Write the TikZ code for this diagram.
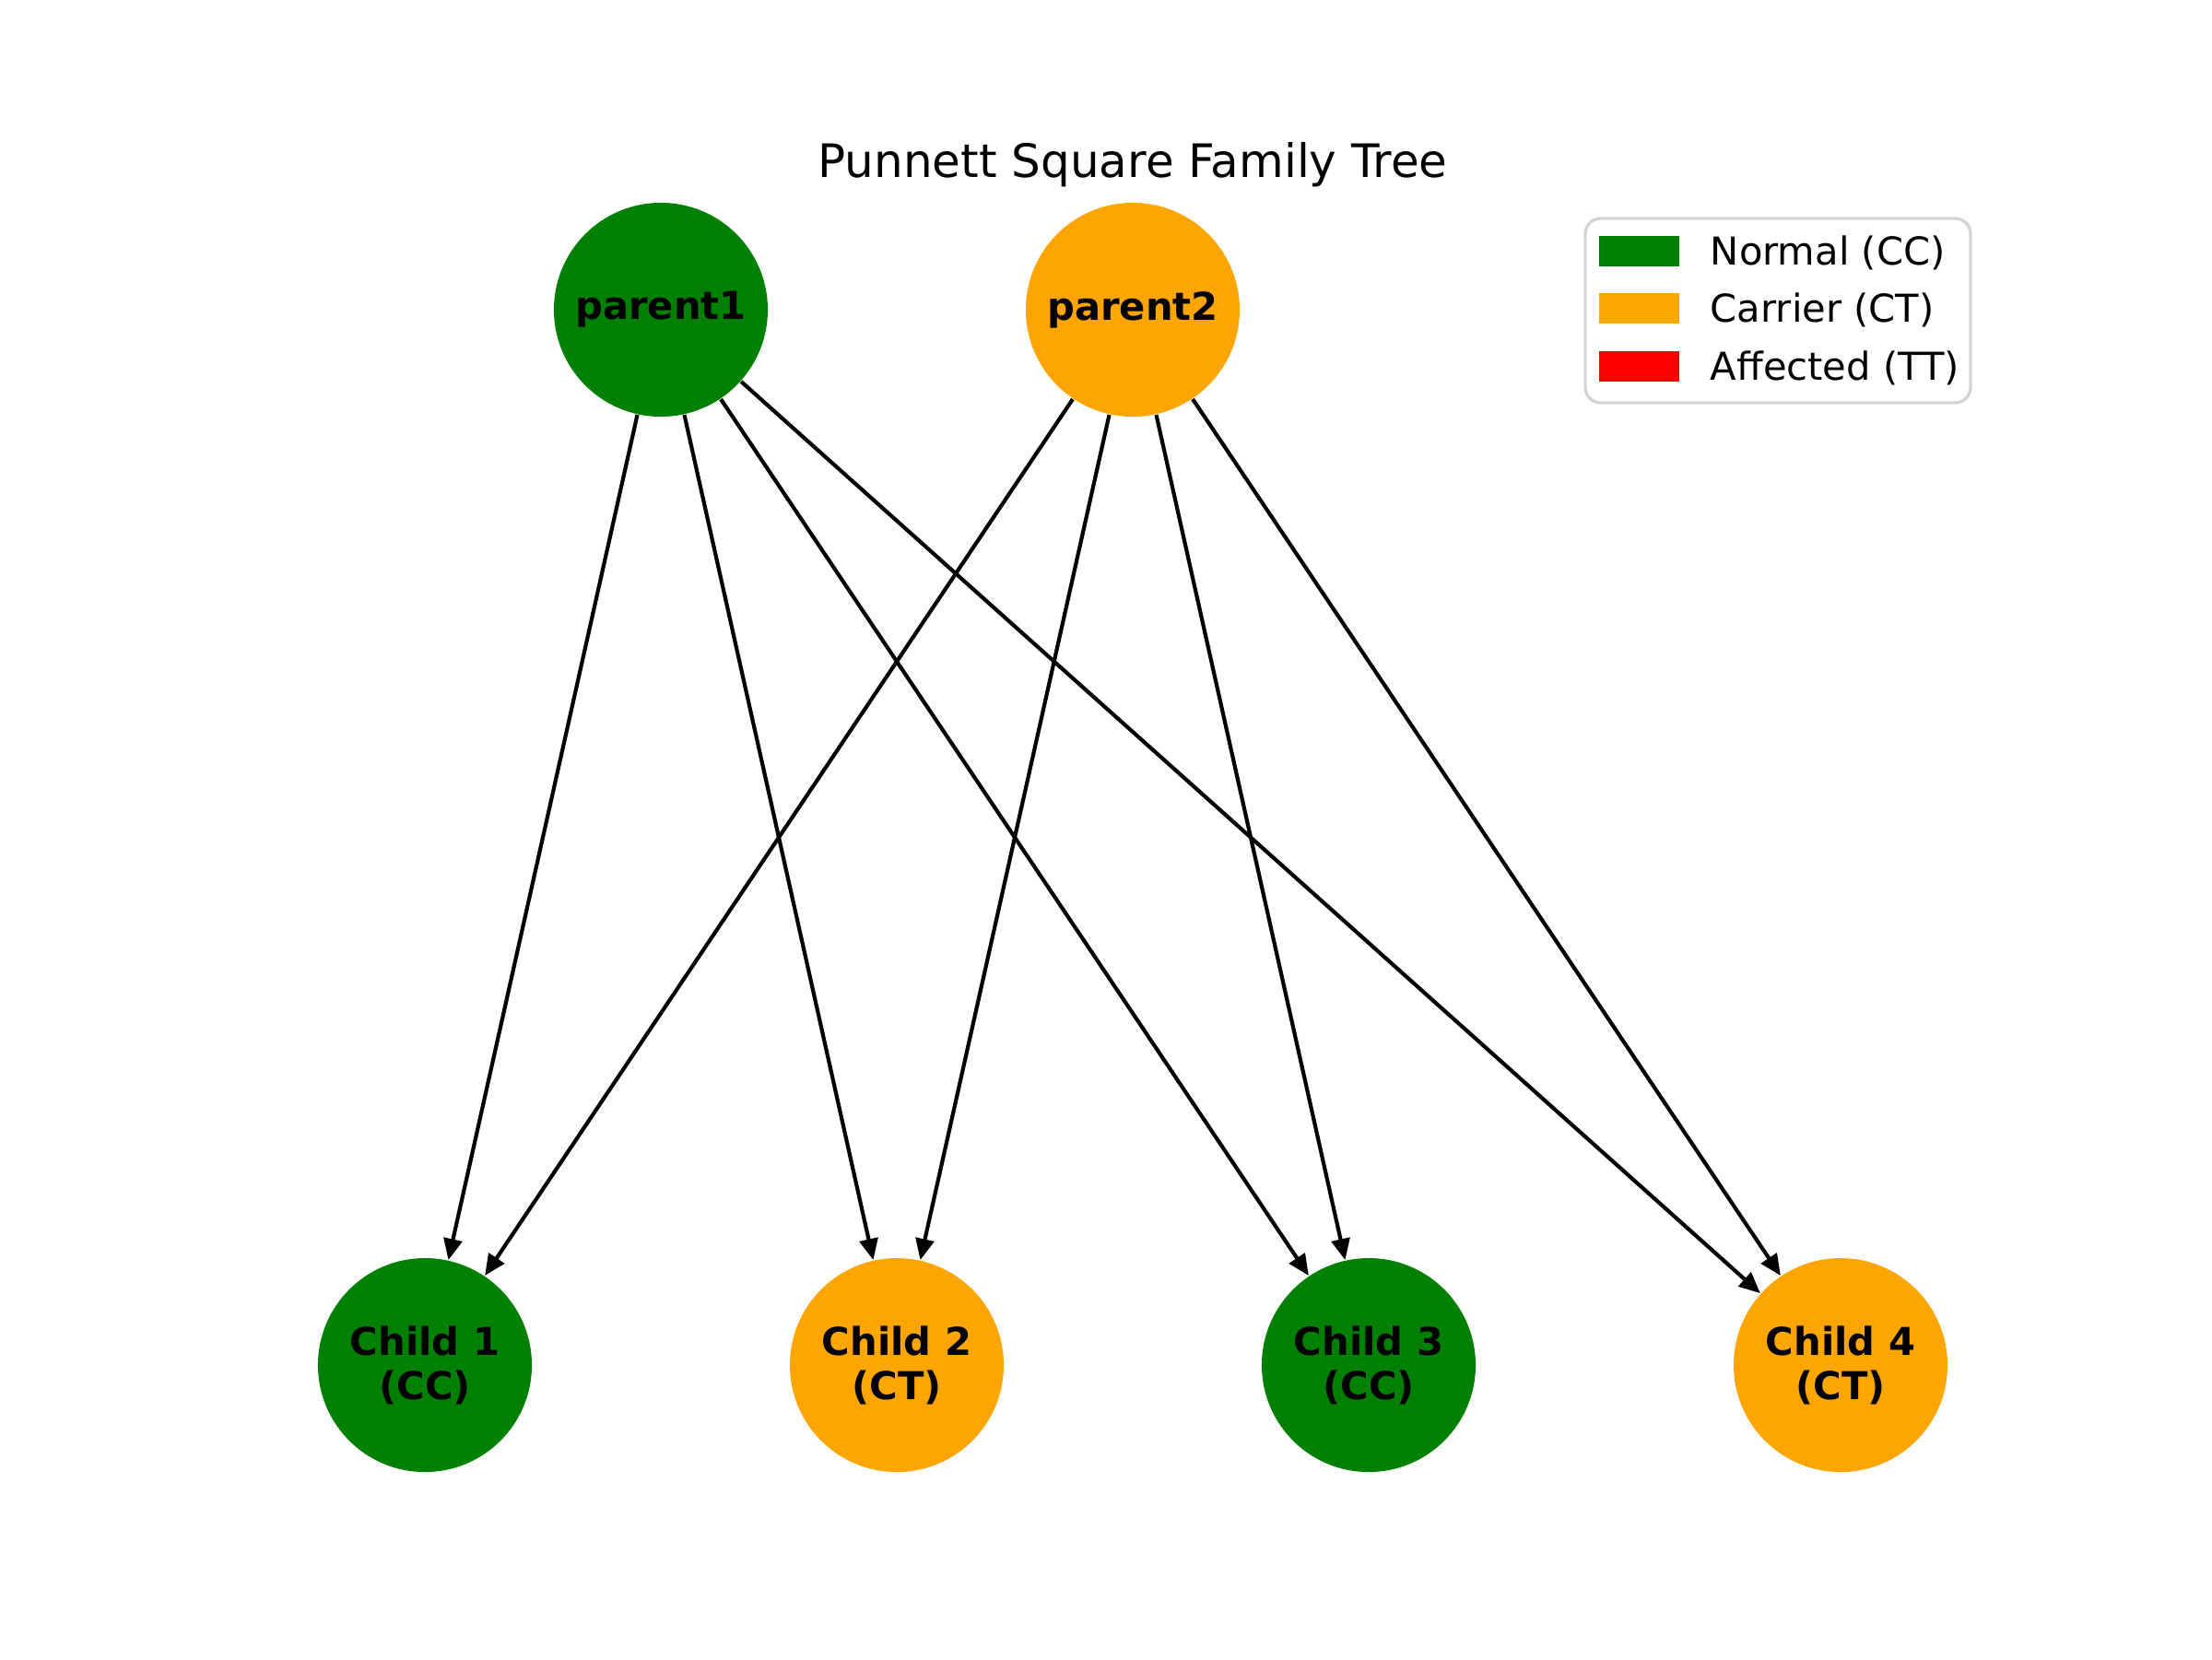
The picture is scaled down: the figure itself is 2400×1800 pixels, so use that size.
\documentclass[tikz,border=0pt]{standalone}
\usepackage{fontspec}
\setmainfont{DejaVu Sans}
\usetikzlibrary{arrows.meta}
\definecolor{mgreen}{HTML}{008000}
\definecolor{morange}{HTML}{FFA500}
\definecolor{mred}{HTML}{FF0000}
\definecolor{lgdgray}{HTML}{D4D4D4}
\begin{document}
\begin{tikzpicture}[x=0.24pt,y=-0.24pt,
  person/.style={circle,minimum size=55.7pt,inner sep=0pt,align=center,
    font={\fontsize{10}{11.5}\selectfont\bfseries}},
  normal/.style={person,fill=mgreen},
  carrier/.style={person,fill=morange},
  link/.style={line width=1pt,-{Stealth[length=5.5pt,width=4.8pt,inset=0pt]}},
  patch/.style={inner sep=0pt,minimum width=87*0.24pt,minimum height=33*0.24pt},
  lgdtext/.style={anchor=base west,inner sep=0pt,font={\fontsize{10}{12}\selectfont}}]
\useasboundingbox[fill=white] (0,0) rectangle (2400,1800);

\node[anchor=base,inner sep=0pt,font={\fontsize{12}{14}\selectfont}] (title) at (1229,192) {Punnett Square Family Tree};

\node[normal] (p1) at (717,336) {parent1};
\node[carrier] (p2) at (1229,336) {parent2};

\node[normal] (c1) at (461,1481) {Child 1\\(CC)};
\node[carrier] (c2) at (973,1481) {Child 2\\(CT)};
\node[normal] (c3) at (1485,1481) {Child 3\\(CC)};
\node[carrier] (c4) at (1997,1481) {Child 4\\(CT)};

\foreach \p in {p1,p2}{
  \foreach \c in {c1,c2,c3,c4}{
    \draw[link] (\p) -- (\c);
  }
}

% legend
\draw[lgdgray,line width=0.8pt,rounded corners=4pt,fill=white] (1720,237) rectangle (2138,437);
\node[patch,fill=mgreen] (lg1) at (1778.5,272) {};
\node[patch,fill=morange] (lg2) at (1778.5,334.5) {};
\node[patch,fill=mred] (lg3) at (1778.5,397.5) {};
\node[lgdtext] (lt1) at (1855,287) {Normal (CC)};
\node[lgdtext] (lt2) at (1855,349) {Carrier (CT)};
\node[lgdtext] (lt3) at (1855,412) {Affected (TT)};
\end{tikzpicture}
\end{document}
